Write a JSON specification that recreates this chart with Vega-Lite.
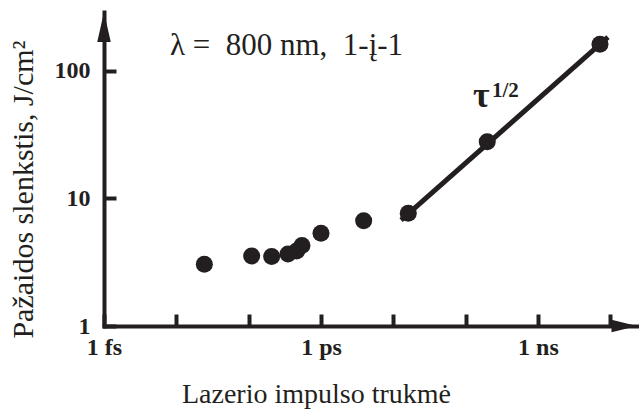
{
  "$schema": "https://vega.github.io/schema/vega-lite/v6.json",
  "width": 533,
  "height": 314,
  "autosize": "none",
  "padding": {"left": 104, "top": 12, "right": 2, "bottom": 87},
  "background": "white",
  "config": {"view": {"stroke": null}, "font": "Liberation Serif"},
  "datasets": {
    "points": [
      {"t": 24.4, "f": 3.05},
      {"t": 110, "f": 3.54},
      {"t": 208, "f": 3.51},
      {"t": 350, "f": 3.67},
      {"t": 461, "f": 3.88},
      {"t": 546, "f": 4.28},
      {"t": 1000, "f": 5.33},
      {"t": 3890, "f": 6.7},
      {"t": 16100, "f": 7.65},
      {"t": 199000, "f": 27.9},
      {"t": 7200000, "f": 162}
    ],
    "fit": [
      {"t": 12800, "f": 6.77},
      {"t": 9300000, "f": 184}
    ],
    "arrows": [
      {"t": 1, "f": 290, "dir": "up"},
      {"t": 23400000, "f": 1, "dir": "right"}
    ]
  },
  "layer": [
    {
      "data": {"name": "fit"},
      "mark": {"type": "line", "color": "#231f20", "strokeWidth": 5},
      "encoding": {
        "x": {
          "field": "t", "type": "quantitative",
          "scale": {"type": "log", "domain": [1, 23400000], "nice": false, "zero": false},
          "axis": {
            "title": "Lazerio impulso trukmė",
            "values": [1, 10, 100, 1000, 10000, 100000, 1000000, 10000000],
            "labelExpr": "datum.value == 1 ? '1 fs' : datum.value == 1000 ? '1 ps' : datum.value == 1000000 ? '1 ns' : ''",
            "grid": false,
            "domainColor": "#231f20", "domainWidth": 4, "domainCap": "square",
            "tickColor": "#231f20", "tickWidth": 4, "tickSize": -12,
            "labelFont": "Liberation Serif", "labelFontWeight": "bold", "labelFontSize": 24,
            "labelColor": "#231f20", "labelPadding": 21, "labelDx": 3,
            "labelFlush": false, "labelOverlap": false, "labelBaseline": "top",
            "titleFont": "Liberation Serif", "titleFontWeight": "normal", "titleFontSize": 28,
            "titleColor": "#231f20", "titleX": 212, "titleY": 76, "titleBaseline": "alphabetic", "titleAlign": "center"
          }
        },
        "y": {
          "field": "f", "type": "quantitative",
          "scale": {"type": "log", "domain": [1, 290], "nice": false, "zero": false},
          "axis": {
            "title": "Pažaidos slenkstis, J/cm²",
            "values": [1, 10, 100],
            "labelExpr": "datum.value == 1 ? '1' : datum.value == 10 ? '10' : '100'",
            "grid": false,
            "domainColor": "#231f20", "domainWidth": 4, "domainCap": "square",
            "tickColor": "#231f20", "tickWidth": 4, "tickSize": -12,
            "labelFont": "Liberation Serif", "labelFontWeight": "bold", "labelFontSize": 24,
            "labelColor": "#231f20", "labelPadding": 26,
            "labelFlush": false, "labelOverlap": false, "labelBaseline": "middle",
            "titleFont": "Liberation Serif", "titleFontWeight": "normal", "titleFontSize": 30,
            "titleColor": "#231f20", "titleX": -72, "titleY": 177, "titleBaseline": "alphabetic", "titleAlign": "center", "titleAngle": -90
          }
        }
      }
    },
    {
      "data": {"name": "points"},
      "mark": {"type": "circle", "color": "#231f20", "opacity": 1, "size": 290},
      "encoding": {
        "x": {"field": "t", "type": "quantitative"},
        "y": {"field": "f", "type": "quantitative"}
      }
    },
    {
      "data": {"name": "arrows"},
      "mark": {"type": "point", "filled": true, "color": "#231f20", "opacity": 1, "size": 900, "strokeWidth": 0},
      "encoding": {
        "x": {"field": "t", "type": "quantitative"},
        "y": {"field": "f", "type": "quantitative"},
        "shape": {
          "field": "dir", "type": "nominal", "legend": null,
          "scale": {"domain": ["up", "right"], "range": ["M0,0L0.45,2L-0.45,2Z", "M0,0L-1.7,-0.42L-1.7,0.42Z"]}
        }
      }
    },
    {
      "data": {"values": [{"t": 8.17, "f": 133.5, "label": "λ =\u2002800 nm,\u20021-į-1"}]},
      "mark": {"type": "text", "align": "left", "baseline": "alphabetic", "font": "Liberation Serif", "fontSize": 31, "color": "#231f20"},
      "encoding": {
        "x": {"field": "t", "type": "quantitative"},
        "y": {"field": "f", "type": "quantitative"},
        "text": {"field": "label"}
      }
    },
    {
      "data": {"values": [{"t": 126000, "f": 52.2, "label": "τ"}]},
      "mark": {"type": "text", "align": "left", "baseline": "alphabetic", "font": "Liberation Serif", "fontSize": 36, "fontWeight": "bold", "color": "#231f20"},
      "encoding": {
        "x": {"field": "t", "type": "quantitative"},
        "y": {"field": "f", "type": "quantitative"},
        "text": {"field": "label"}
      }
    },
    {
      "data": {"values": [{"t": 231000, "f": 62.5, "label": "1/2"}]},
      "mark": {"type": "text", "align": "left", "baseline": "alphabetic", "font": "Liberation Serif", "fontSize": 21, "fontWeight": "bold", "color": "#231f20"},
      "encoding": {
        "x": {"field": "t", "type": "quantitative"},
        "y": {"field": "f", "type": "quantitative"},
        "text": {"field": "label"}
      }
    }
  ]
}
